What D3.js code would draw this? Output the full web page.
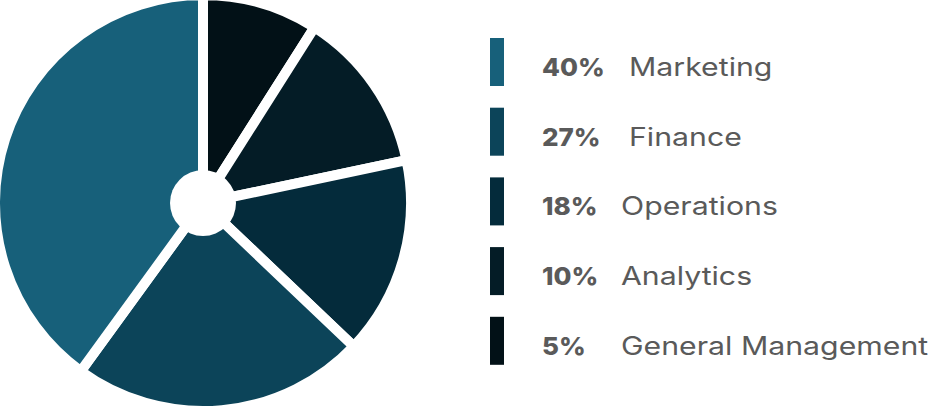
<!DOCTYPE html>
<html>
<head>
<meta charset="utf-8">
<script src="https://cdn.jsdelivr.net/npm/d3@7"></script>
<style>
  html, body { margin: 0; padding: 0; background: #fff; }
  svg { display: block; }
</style>
</head>
<body>
<svg id="chart" width="931" height="407"></svg>
<script>
// legend order
var categories = ["Marketing", "Finance", "Operations", "Analytics", "General Management"];
var percentLabels = ["40%", "27%", "18%", "10%", "5%"];
var sliceShares = [40, 22.9, 15.4, 12.7, 9];
var colors = ["#17607a", "#0c4459", "#042b3b", "#041c26", "#021117"];

var svg = d3.select("#chart");

var cx = 203, cy = 203, radius = 203, holeR = 33;

var data = categories.map(function (c, i) {
    return { name: c, share: sliceShares[i], color: colors[i] };
});

// drawn clockwise from 12 o'clock, smallest first
var pie = d3.pie()
    .sort(null)
    .value(function (d) { return d.share; });

var arc = d3.arc()
    .innerRadius(0)
    .outerRadius(radius + 5);

var g = svg.append("g")
    .attr("transform", "translate(" + cx + "," + cy + ")");

g.selectAll(".slice")
    .data(pie(data.slice().reverse()))
  .enter().append("path")
    .attr("class", "slice")
    .attr("d", arc)
    .attr("fill", function (d) { return d.data.color; })
    .attr("stroke", "#fff")
    .attr("stroke-width", 10)
    .attr("stroke-linejoin", "miter");

g.append("circle")
    .attr("r", holeR)
    .attr("fill", "#fff");

// legend
var step = 69.7;
var font = "Inter, 'Open Sans', sans-serif";
var legend = svg.selectAll(".item")
    .data(data)
  .enter().append("g")
    .attr("class", "item")
    .attr("transform", function (d, i) { return "translate(490," + (38 + i * step) + ")"; });

legend.append("rect")
    .attr("width", 14)
    .attr("height", 48)
    .attr("fill", function (d) { return d.color; });

// the original face is wider than anything installed, so widen a bit
function widen(sel, k) {
    sel.each(function () {
        var len = this.getComputedTextLength();
        d3.select(this)
            .attr("textLength", len * k)
            .attr("lengthAdjust", "spacingAndGlyphs");
    });
}

legend.append("text")
    .attr("x", 52)
    .attr("y", 38)
    .attr("font-family", font)
    .attr("font-weight", 800)
    .attr("font-size", 25)
    .attr("fill", "#5a5a5a")
    .text(function (d, i) { return percentLabels[i]; })
    .call(widen, 1.04);

legend.append("text")
    .attr("x", function (d, i) { return i < 2 ? 139 : 131; })
    .attr("y", 38)
    .attr("font-family", font)
    .attr("font-weight", 400)
    .attr("font-size", 25)
    .attr("fill", "#5a5a5a")
    .text(function (d) { return d.name; })
    .call(widen, 1.21);
</script>
</body>
</html>
